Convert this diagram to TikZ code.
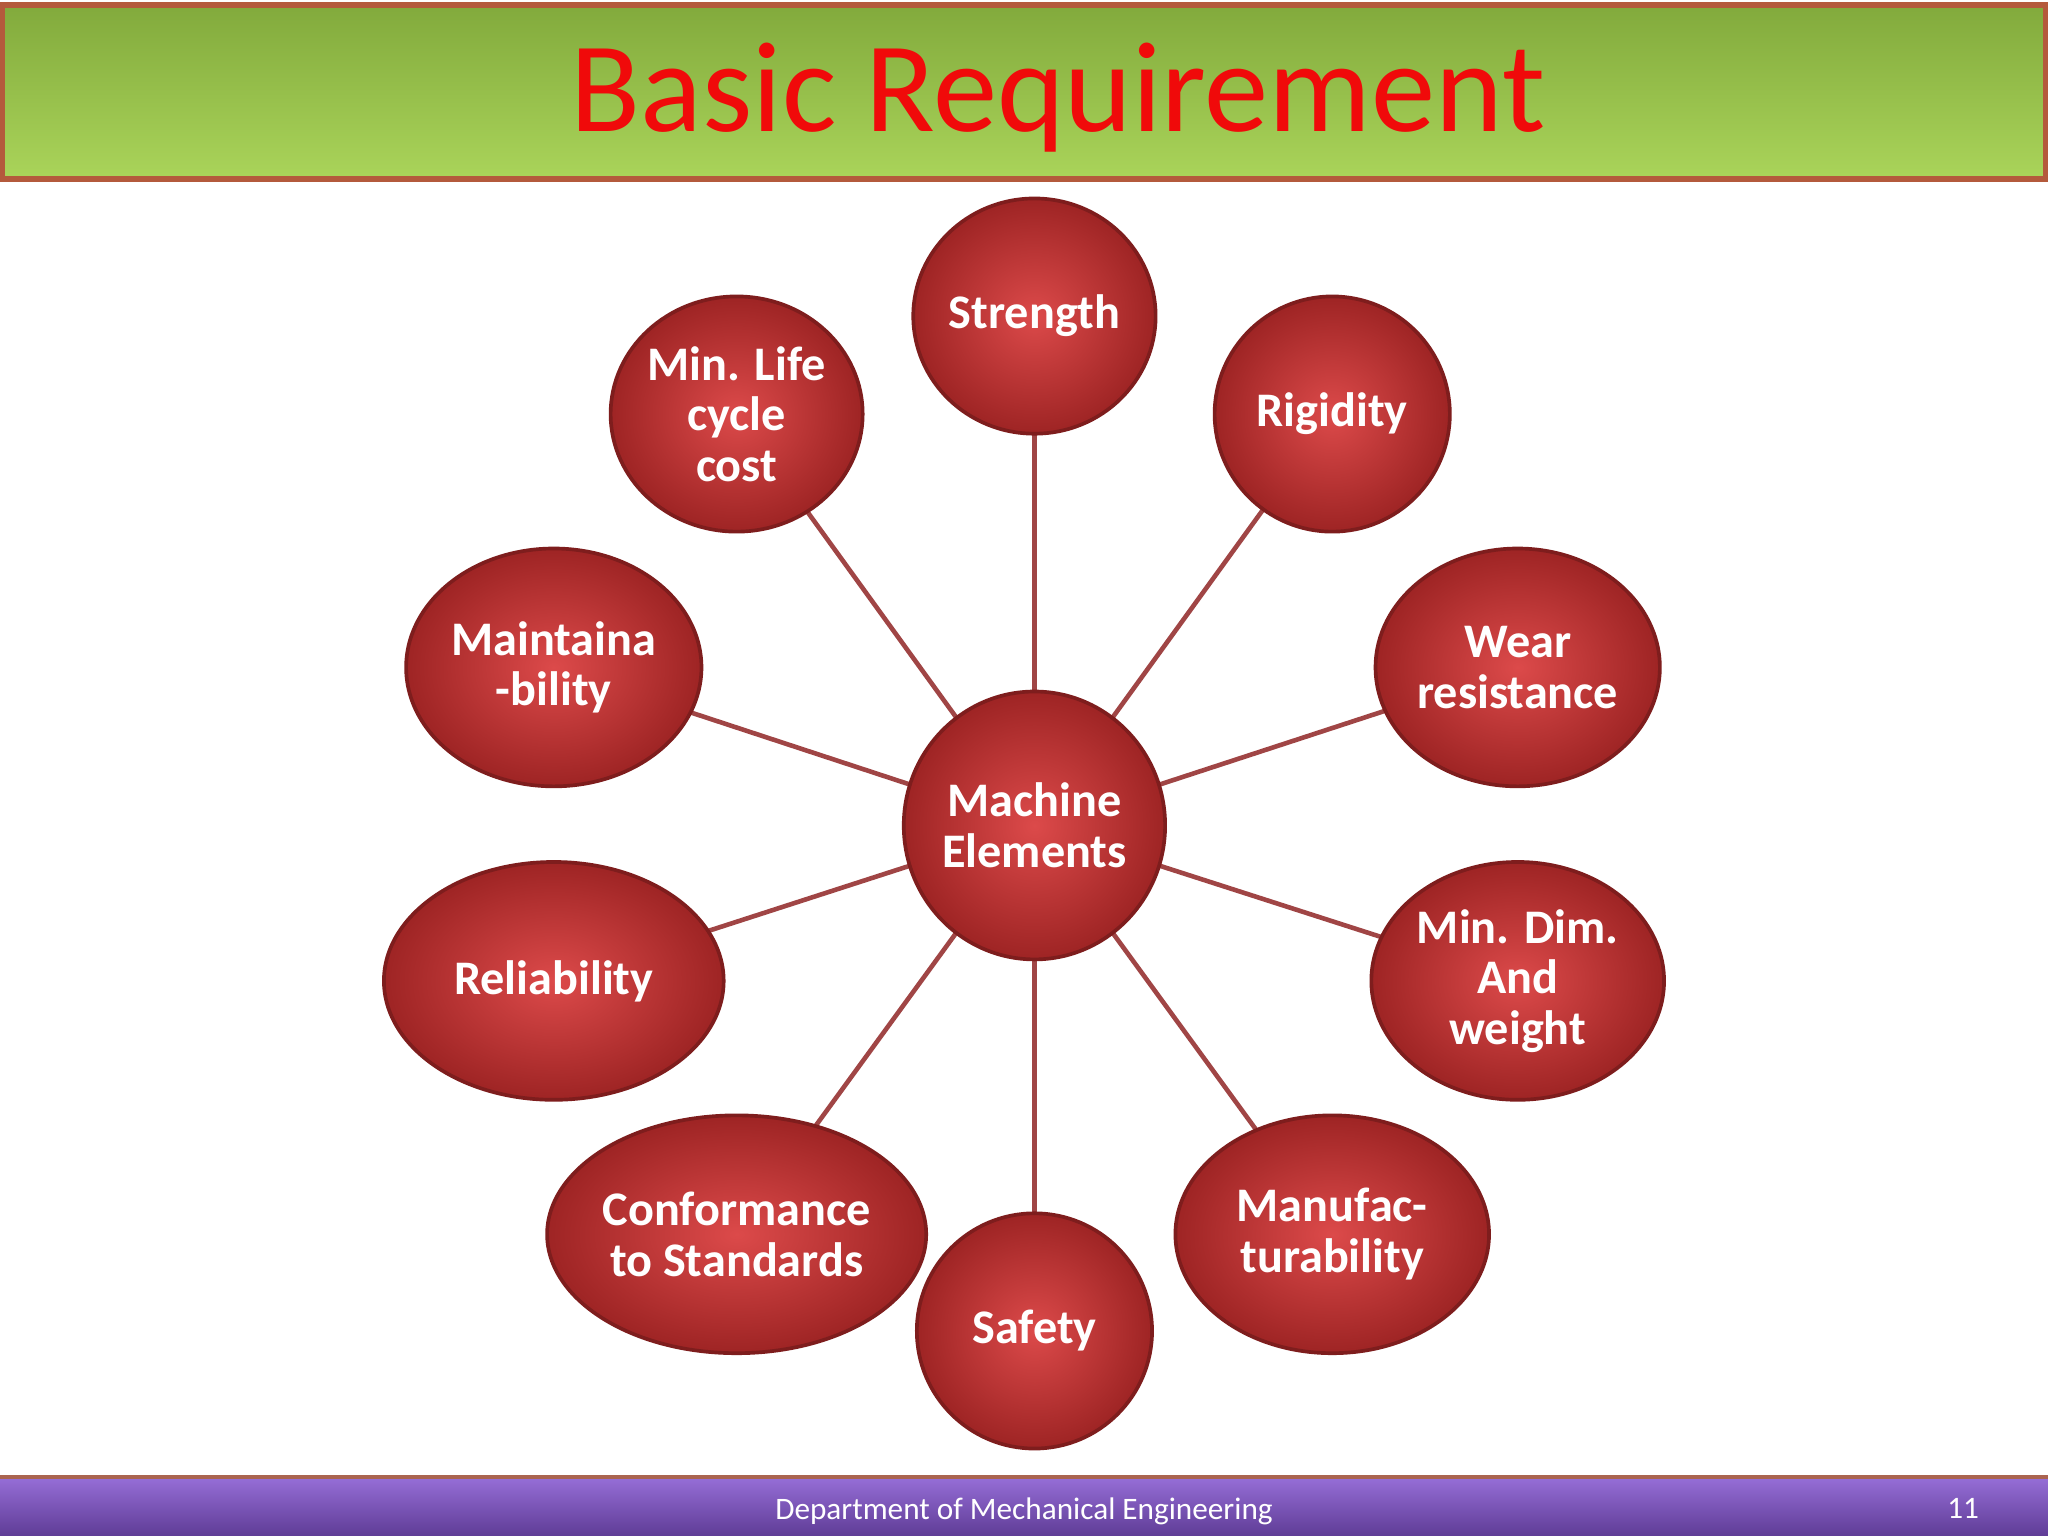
\documentclass[tikz,border=0pt]{standalone}
\usepackage{fontspec}
\setmainfont{Carlito}
\usetikzlibrary{shapes.geometric}
\definecolor{ballin}{HTML}{DC4A4A}
\definecolor{ballout}{HTML}{9E2424}
\definecolor{edge}{HTML}{A04545}
\definecolor{ttl}{HTML}{F00A0A}
\definecolor{gtop}{RGB}{130,170,60}
\definecolor{gbot}{RGB}{170,212,90}
\definecolor{gbrd}{RGB}{180,90,60}
\definecolor{ptop}{RGB}{150,110,215}
\definecolor{pbot}{RGB}{95,60,150}
\definecolor{pbrd}{RGB}{170,100,80}
\tikzset{
 ball/.style={ellipse,draw=ballout!80!black,line width=0.8pt,inner color=ballin,outer color=ballout,
   text=white,font=\bfseries\fontsize{10.5}{11}\selectfont,align=center,inner sep=0pt},
 conn/.style={draw=edge,line width=1pt}
}
\begin{document}
\begin{tikzpicture}[x=0.01cm,y=-0.01cm]
\useasboundingbox (0,0) rectangle (1568,1176);
\fill[white] (0,0) rectangle (1568,1176);
% title bar
\shade[top color=gtop,bottom color=gbot] (2,4) rectangle (1566,137);
\draw[gbrd,line width=1.2pt] (2,4) rectangle (1566,137);
\node[text=ttl,font=\fontsize{28}{30}\selectfont] (title) at (810,75) {Basic Requirement};
% footer
\shade[top color=ptop,bottom color=pbot] (0,1131) rectangle (1568,1176);
\draw[pbrd,line width=0.8pt] (0,1131) -- (1568,1131);
\node[text=white,font=\fontsize{6.8}{8}\selectfont] (foot) at (784,1157) {Department of Mechanical Engineering};
\node[text=white,font=\fontsize{6.8}{8}\selectfont] (pg) at (1503,1155) {11};
% nodes
\coordinate (c) at (792,632);
\coordinate (p1) at (792,242);
\coordinate (p2) at (564,317);
\coordinate (p3) at (1020,317);
\coordinate (p4) at (424,511);
\coordinate (p5) at (1162,511);
\coordinate (p6) at (424,751);
\coordinate (p7) at (1162,751);
\coordinate (p8) at (564,945);
\coordinate (p9) at (1020,945);
\coordinate (p10) at (792,1019);
\foreach \p in {p1,p2,p3,p4,p5,p6,p7,p8,p9,p10} \draw[conn] (c) -- (\p);
\node[ball,minimum width=2.0cm,minimum height=2.05cm] (me) at (c) {Machine\\Elements};
\node[ball,minimum width=1.8cm,minimum height=1.8cm] (s) at (p1) {Strength};
\node[ball,minimum width=1.8cm,minimum height=1.8cm] (ml) at (p2) {Min. Life\\cycle\\cost};
\node[ball,minimum width=1.8cm,minimum height=1.8cm] (rg) at (p3) {Rigidity};
\node[ball,minimum width=2.26cm,minimum height=1.82cm] (mt) at (p4) {Maintaina\\-bility};
\node[ball,minimum width=2.1cm,minimum height=1.82cm] (wr) at (p5) {Wear\\resistance};
\node[ball,minimum width=2.6cm,minimum height=1.82cm] (rl) at (p6) {Reliability};
\node[ball,minimum width=2.24cm,minimum height=1.82cm] (md) at (p7) {Min. Dim.\\And\\weight};
\node[ball,minimum width=2.86cm,minimum height=1.82cm] (cf) at (p8) {Conformance\\to Standards};
\node[ball,minimum width=2.4cm,minimum height=1.82cm] (mf) at (p9) {Manufac-\\turability};
\node[ball,minimum width=1.8cm,minimum height=1.8cm] (sf) at (p10) {Safety};
\end{tikzpicture}
\end{document}
